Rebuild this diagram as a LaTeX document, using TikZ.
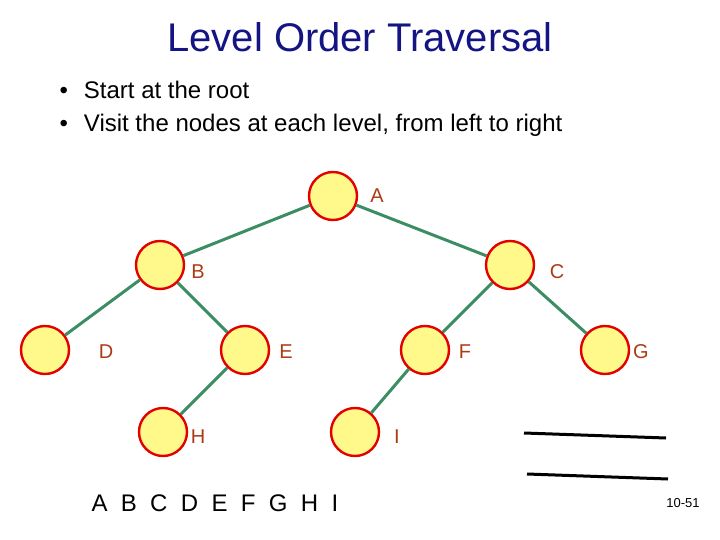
\documentclass[tikz,border=0pt]{standalone}
\usepackage{fontspec}
\setmainfont{Liberation Sans}
\definecolor{edgec}{RGB}{60,140,100}
\definecolor{lblc}{RGB}{170,60,20}
\definecolor{titc}{RGB}{20,20,130}
\begin{document}
\begin{tikzpicture}[x=1pt,y=-1pt,
  tn/.style={circle,draw=red!90!black,line width=2.4pt,fill=yellow!45,minimum size=48pt,inner sep=0},
  lbl/.style={text=lblc,font=\fontsize{20}{20}\selectfont},
  edge/.style={draw=edgec,line width=3pt}]
\useasboundingbox (0,0) rectangle (720,540);
\node[text=titc,font=\fontsize{40}{40}\selectfont] (title) at (360,37) {Level Order Traversal};
\node[anchor=west,font=\fontsize{24}{24}\selectfont] (b1) at (56,90) {•\hspace{16pt}Start at the root};
\node[anchor=west,font=\fontsize{24}{24}\selectfont] (b2) at (56,125) {•\hspace{16pt}Visit the nodes at each level, from left to right};
\node[tn] (A) at (333,196) {};
\node[tn] (B) at (160,265) {};
\node[tn] (C) at (510,265) {};
\node[tn] (D) at (45,350) {};
\node[tn] (E) at (245,350) {};
\node[tn] (F) at (425,350) {};
\node[tn] (G) at (605,350) {};
\node[tn] (H) at (163,432) {};
\node[tn] (I) at (355,432) {};
\draw[edge] (A) -- (B); \draw[edge] (A) -- (C);
\draw[edge] (B) -- (D); \draw[edge] (B) -- (E);
\draw[edge] (C) -- (F); \draw[edge] (C) -- (G);
\draw[edge] (E) -- (H); \draw[edge] (F) -- (I);
\node[lbl] (lA) at (377,196) {A};
\node[lbl] (lB) at (198,272) {B};
\node[lbl] (lC) at (557,272) {C};
\node[lbl] (lD) at (106,352) {D};
\node[lbl] (lE) at (286,352) {E};
\node[lbl] (lF) at (465,352) {F};
\node[lbl] (lG) at (641,352) {G};
\node[lbl] (lH) at (198,437) {H};
\node[lbl] (lI) at (397,437) {I};
\node[anchor=west,font=\fontsize{24}{24}\selectfont] (seq) at (88,503) {A\ \ B\ \ C\ \ D\ \ E\ \ F\ \ G\ \ H\ \ I};
\coordinate (l1a) at (524,433); \coordinate (l1b) at (666,438);
\coordinate (l2a) at (527,474); \coordinate (l2b) at (668,479);
\draw[line width=3pt] (l1a) -- (l1b);
\draw[line width=3pt] (l2a) -- (l2b);
\node[font=\fontsize{13}{13}\selectfont] (pg) at (683,503) {10-51};
\end{tikzpicture}
\end{document}
